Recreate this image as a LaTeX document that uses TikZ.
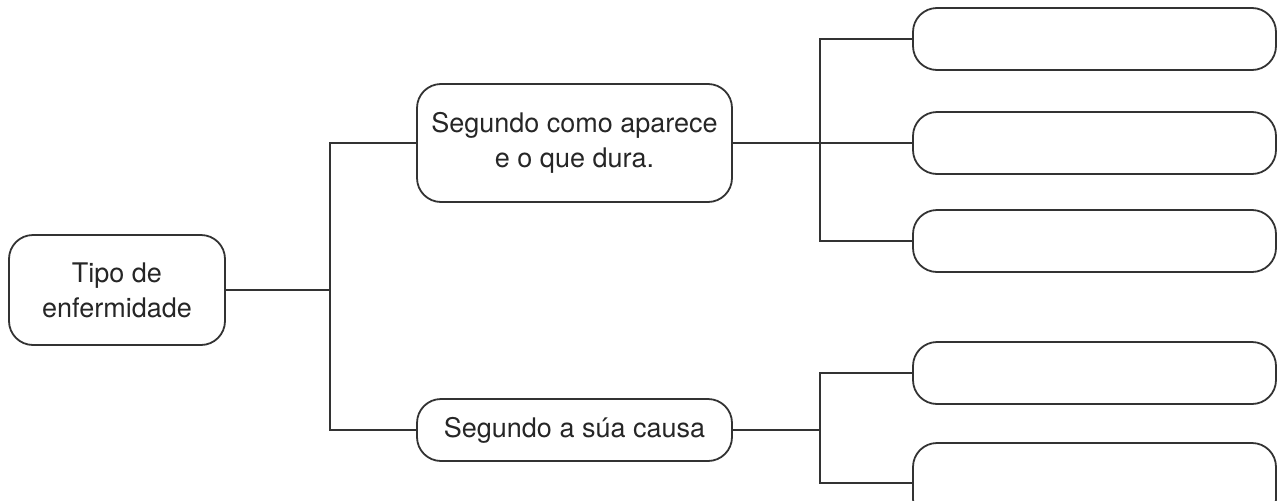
\documentclass[tikz,border=0pt]{standalone}
\usepackage{fontspec}
\setmainfont{TeX Gyre Heros}
\begin{document}
\begin{tikzpicture}[x=1pt,y=-1pt,
        caixa/.style={draw=black!80, line width=1.8pt, rounded corners=24pt, align=center, inner sep=0pt, font=\fontsize{27}{35}\selectfont, text=black!85},
        liña/.style={draw=black!80, line width=1.8pt}]
        \useasboundingbox (0,0) rectangle (1286,501);
        \node[caixa, minimum width=216pt, minimum height=110pt] (tipo) at (117,290) {Tipo de\\enfermidade};
        \node[caixa, minimum width=315pt, minimum height=118pt] (aparece) at (574.5,143) {Segundo como aparece\\e o que dura.};
        \node[caixa, minimum width=315pt, minimum height=62pt] (causa) at (574.5,430) {Segundo a súa causa};
        \node[caixa, minimum width=363pt, minimum height=62pt] (r1) at (1094.5,39) {};
        \node[caixa, minimum width=363pt, minimum height=62pt] (r2) at (1094.5,143) {};
        \node[caixa, minimum width=363pt, minimum height=62pt] (r3) at (1094.5,241) {};
        \node[caixa, minimum width=363pt, minimum height=62pt] (r4) at (1094.5,373) {};
        \node[caixa, minimum width=363pt, minimum height=80pt] (r5) at (1094.5,483) {};
        \coordinate (j1) at (330,290);
        \coordinate (j2) at (820,143);
        \coordinate (j3) at (820,430);
        \draw[liña] (tipo.east) -- (j1);
        \draw[liña] (aparece.west) -| (j1) |- (causa.west);
        \draw[liña] (aparece.east) -- (r2.west);
        \draw[liña] (r1.west) -| (j2) |- (r3.west);
        \draw[liña] (causa.east) -- (j3);
        \draw[liña] (r4.west) -| (j3) |- (r5.west);
    \end{tikzpicture}
\end{document}
